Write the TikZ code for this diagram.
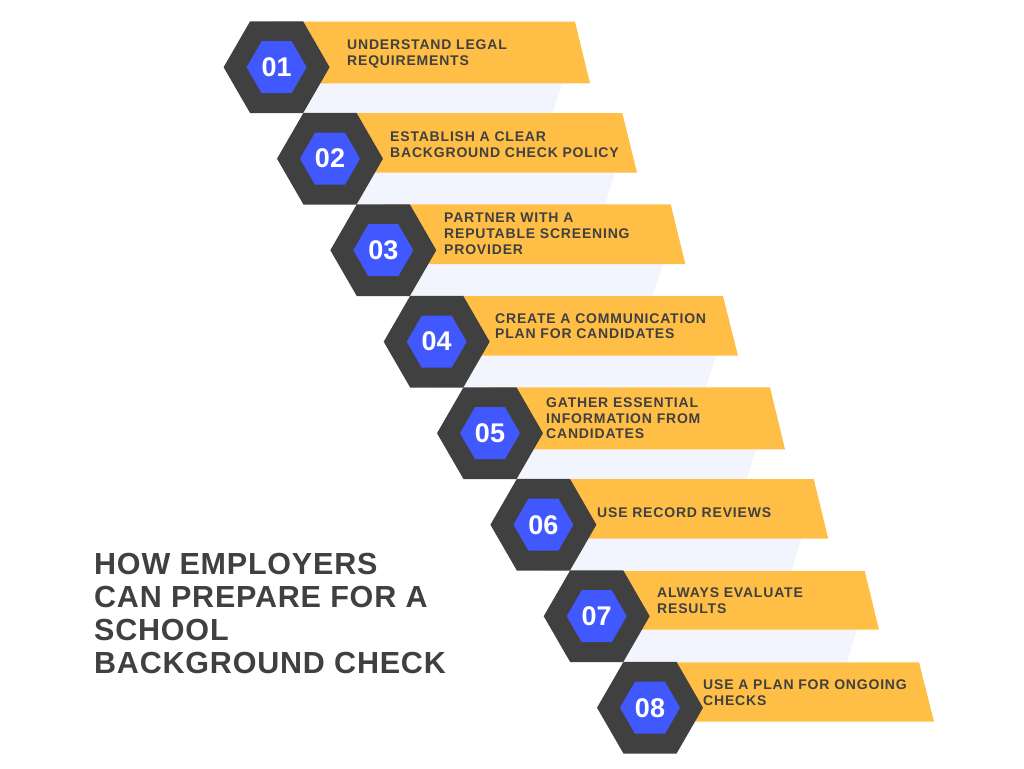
\documentclass[tikz,border=0pt]{standalone}
\usepackage{fontspec}
\usepackage{tikz}
\usetikzlibrary{shapes.geometric}
\newfontfamily\labelfont[LetterSpace=5.8]{Liberation Sans}
\newfontfamily\titlefont[LetterSpace=2.6]{Liberation Sans}
\newfontfamily\numfont{Liberation Sans}
\definecolor{ribbonyellow}{HTML}{FFBF47}
\definecolor{hexdark}{HTML}{404040}
\definecolor{hexblue}{HTML}{4258FF}
\definecolor{bandpale}{HTML}{F2F5FE}
\tikzset{
  hexouter/.style={regular polygon, regular polygon sides=6,
    fill=hexdark, minimum size=106pt, inner sep=0pt, outer sep=0pt},
  hexinner/.style={regular polygon, regular polygon sides=6,
    fill=hexblue, minimum size=60pt, inner sep=0pt, outer sep=0pt, text=white,
    font=\numfont\bfseries\fontsize{27}{27}\selectfont},
  ribbonlabel/.style={anchor=base west, align=left, inner sep=0pt, text=hexdark,
    font=\labelfont\bfseries\fontsize{14}{15.7}\selectfont},
  titlelabel/.style={anchor=base west, align=left, inner sep=0pt, text=hexdark,
    font=\titlefont\bfseries\fontsize{30.5}{32.8}\selectfont}
}

\begin{document}
\begin{tikzpicture}[x=1pt, y=-1pt]
    \useasboundingbox (0, 0) rectangle (1024, 768);
    \begin{scope}
      \fill[bandpale] (276, 83) -- (562, 83) -- (552.7, 113) -- (276, 113) -- cycle;
      \fill[bandpale] (330, 172.7) -- (615, 172.7) -- (605.3, 204.3) -- (330, 204.3) -- cycle;
      \fill[bandpale] (383, 264) -- (662.7, 264) -- (652.7, 296) -- (383, 296) -- cycle;
      \fill[bandpale] (436, 355.7) -- (716, 355.7) -- (706, 387.3) -- (436, 387.3) -- cycle;
      \fill[bandpale] (490, 449.3) -- (756, 449.3) -- (746.7, 479) -- (490, 479) -- cycle;
      \fill[bandpale] (543, 538.7) -- (801.3, 538.7) -- (791.7, 571) -- (543, 571) -- cycle;
      \fill[bandpale] (596, 629.7) -- (857, 629.7) -- (847, 662.3) -- (596, 662.3) -- cycle;
    \end{scope}
    \begin{scope}
      \fill[ribbonyellow] (276, 21.7) -- (575, 21.7) -- (590, 83.3) -- (276, 83.3) -- cycle;
      \fill[ribbonyellow] (330, 113) -- (622.3, 113) -- (637, 172.7) -- (330, 172.7) -- cycle;
      \fill[ribbonyellow] (383, 204.3) -- (670.7, 204.3) -- (685.3, 264) -- (383, 264) -- cycle;
      \fill[ribbonyellow] (436, 296) -- (723, 296) -- (738, 355.7) -- (436, 355.7) -- cycle;
      \fill[ribbonyellow] (490, 387.3) -- (770, 387.3) -- (785, 449.3) -- (490, 449.3) -- cycle;
      \fill[ribbonyellow] (543, 479) -- (813.7, 479) -- (828.3, 538.7) -- (543, 538.7) -- cycle;
      \fill[ribbonyellow] (596, 571) -- (864.7, 571) -- (879, 629.7) -- (596, 629.7) -- cycle;
      \fill[ribbonyellow] (649, 662.3) -- (919, 662.3) -- (934, 721.7) -- (649, 721.7) -- cycle;
    \end{scope}
    \begin{scope}
      \node[hexouter] (outerone) at (276.6, 67.2) {};
      \node[hexouter] (outertwo) at (330, 158.7) {};
      \node[hexouter] (outerthree) at (383.3, 250.2) {};
      \node[hexouter] (outerfour) at (436.7, 341.7) {};
      \node[hexouter] (outerfive) at (490, 433.2) {};
      \node[hexouter] (outersix) at (543.4, 524.7) {};
      \node[hexouter] (outerseven) at (596.7, 616.2) {};
      \node[hexouter] (outereight) at (650, 707.7) {};
      \node[hexinner] (innerone) at (outerone) {01};
      \node[hexinner] (innertwo) at (outertwo) {02};
      \node[hexinner] (innerthree) at (outerthree) {03};
      \node[hexinner] (innerfour) at (outerfour) {04};
      \node[hexinner] (innerfive) at (outerfive) {05};
      \node[hexinner] (innersix) at (outersix) {06};
      \node[hexinner] (innerseven) at (outerseven) {07};
      \node[hexinner] (innereight) at (outereight) {08};
    \end{scope}
    \begin{scope}
      \node[ribbonlabel] (labelone) at (347, 65) {UNDERSTAND LEGAL\\REQUIREMENTS};
      \node[ribbonlabel] (labeltwo) at (390, 157) {ESTABLISH A CLEAR\\BACKGROUND CHECK POLICY};
      \node[ribbonlabel] (labelthree) at (444, 254) {PARTNER WITH A\\REPUTABLE SCREENING\\PROVIDER};
      \node[ribbonlabel] (labelfour) at (495, 338.7) {CREATE A COMMUNICATION\\PLAN FOR CANDIDATES};
      \node[ribbonlabel] (labelfive) at (546, 438.7) {GATHER ESSENTIAL\\INFORMATION FROM\\CANDIDATES};
      \node[ribbonlabel] (labelsix) at (597, 517) {USE RECORD REVIEWS};
      \node[ribbonlabel] (labelseven) at (657, 613) {ALWAYS EVALUATE\\RESULTS};
      \node[ribbonlabel] (labeleight) at (703, 705) {USE A PLAN FOR ONGOING\\CHECKS};
      \node[titlelabel] (titleblock) at (94, 673) {HOW EMPLOYERS\\CAN PREPARE FOR A\\SCHOOL\\BACKGROUND CHECK};
    \end{scope}
\end{tikzpicture}
\end{document}
